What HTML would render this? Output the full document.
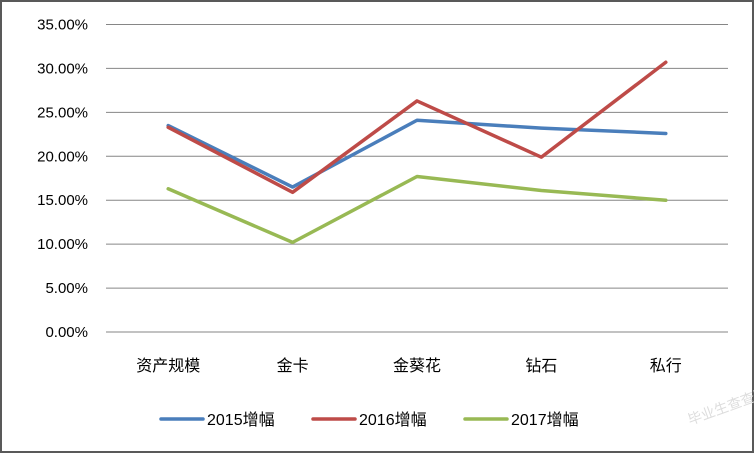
<!DOCTYPE html>
<html><head><meta charset="utf-8"><style>
body{margin:0;background:#fff}
svg{display:block;font-family:"Liberation Sans","Noto Sans CJK SC",sans-serif}
</style></head><body>
<svg id="chart" width="754" height="453" xmlns="http://www.w3.org/2000/svg">
<rect x="1" y="1" width="752" height="451" fill="#fff" stroke="#595959" stroke-width="2"/>
<g id="grid"></g><g id="ylab"></g><g id="xlab"></g><g id="lines"></g><g id="legend"></g>
<text x="690" y="425" font-size="14" fill="#ddd" transform="rotate(-20 690 425)">毕业生查查网</text>
</svg>
<script>
const categories=["资产规模","金卡","金葵花","钻石","私行"];
const s2015=[23.5,16.5,24.1,23.2,22.6];
const s2016=[23.3,15.9,26.3,19.9,30.7];
const s2017=[16.3,10.2,17.7,16.1,15.0];
const yTicks=[0,5,10,15,20,25,30,35];
const seriesNames=["2015增幅","2016增幅","2017增幅"];
const colors=["#4a7ebb","#be4b48","#98b954"];
const NS="http://www.w3.org/2000/svg";
const x0=106,x1=728,yBase=332,yTop=24.5;
const y=v=>yBase-(v/35)*(yBase-yTop);
const x=i=>x0+(i+0.5)*(x1-x0)/categories.length;
function mk(t,a,p){const e=document.createElementNS(NS,t);for(const k in a)e.setAttribute(k,a[k]);p.appendChild(e);return e;}
const g=document.getElementById('grid'),yl=document.getElementById('ylab'),xl=document.getElementById('xlab'),ln=document.getElementById('lines'),lg=document.getElementById('legend');
yTicks.forEach(t=>{
 const l=mk('line',{x1:x0,x2:x1,y1:y(t),y2:y(t),stroke:'#868686','stroke-width':1},g);
 
 
 const tx=mk('text',{x:88,y:y(t)+5,'text-anchor':'end','font-size':15,fill:'#000'},yl);
 tx.textContent=t.toFixed(2)+'%';
 
 
});
categories.forEach((c,i)=>{
 const tx=mk('text',{x:x(i),y:371,'text-anchor':'middle','font-size':16,fill:'#000'},xl);
 tx.textContent=c;
 
 
});
[s2015,s2016,s2017].forEach((s,k)=>{
 const p=mk('polyline',{points:s.map((v,i)=>x(i)+','+y(v)).join(' '),fill:'none',stroke:colors[k],'stroke-width':3.5,'stroke-linejoin':'round','stroke-linecap':'round'},ln);
 
 
});
const lx=[161,313,465];
seriesNames.forEach((n,k)=>{
 const l=mk('line',{x1:lx[k],x2:lx[k]+42,y1:419,y2:419,stroke:colors[k],'stroke-width':3.5,'stroke-linecap':'round'},lg);
 
 
 const t=mk('text',{x:lx[k]+46,y:425,'font-size':16,fill:'#000'},lg);
 t.textContent=n;
 
 
});
</script>
</body></html>
